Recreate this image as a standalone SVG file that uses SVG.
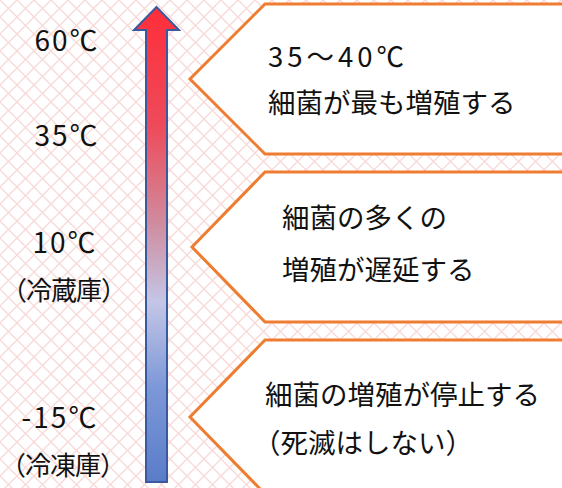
<svg xmlns="http://www.w3.org/2000/svg" width="562" height="488" viewBox="0 0 562 488">
<defs>
<pattern id="lat" width="17" height="17" patternUnits="userSpaceOnUse">
<rect width="17" height="17" fill="#ffffff"/>
<path d="M0,0 L17,17 M17,0 L0,17" stroke="#f9d8d8" stroke-width="1.3" fill="none"/>
</pattern>
<linearGradient id="ag" x1="0" y1="0" x2="0" y2="1">
<stop offset="0" stop-color="#ff2e3a"/>
<stop offset="0.25" stop-color="#ee4a5a"/>
<stop offset="0.45" stop-color="#d08a9c"/>
<stop offset="0.62" stop-color="#c4c6e6"/>
<stop offset="0.8" stop-color="#7d98d8"/>
<stop offset="1" stop-color="#5a7cc8"/>
</linearGradient>
<style>
.box{fill:#ffffff;stroke:#ee7d32;stroke-width:3}
.t{font-family:"Noto Sans CJK JP","Noto Sans",sans-serif;font-size:27.5px;fill:#111}
.l{font-family:"Noto Sans CJK JP","Noto Sans",sans-serif;font-size:28px;fill:#111;text-anchor:middle;letter-spacing:2px}
.p{font-family:"Noto Sans CJK JP","Noto Sans",sans-serif;font-size:26px;fill:#111;letter-spacing:-1px}
</style>
</defs>
<rect width="562" height="488" fill="url(#lat)"/>
<g id="arrow">
<path d="M156.5,7 L179,30 L167,30 L167,482 L146,482 L146,30 L134,30 Z" fill="url(#ag)" stroke="#3a5aa0" stroke-width="2" stroke-linejoin="miter"/>
</g>
<g id="labels">
<text class="l" x="67" y="51">60℃</text>
<text class="l" x="67" y="146">35℃</text>
<text class="l" x="65" y="253">10℃</text>
<text class="p" x="1" y="300">（冷蔵庫）</text>
<text class="l" x="60" y="428">-15℃</text>
<text class="p" x="0" y="475">（冷凍庫）</text>
</g>
<g id="box1">
<polygon class="box" points="265,4 600,4 600,154 265,154 190,79"/>
<text class="t" x="268" y="67" letter-spacing="4">35～40℃</text>
<text class="t" x="268" y="113">細菌が最も増殖する</text>
</g>
<g id="box2">
<polygon class="box" points="265,172 600,172 600,322 265,322 192,247"/>
<text class="t" x="282" y="228">細菌の多くの</text>
<text class="t" x="282" y="280">増殖が遅延する</text>
</g>
<g id="box3">
<polygon class="box" points="265,340 600,340 600,494 265,494 190,417"/>
<text class="t" x="265" y="405">細菌の増殖が停止する</text>
<text class="t" x="253" y="453">（死滅はしない）</text>
</g>
</svg>
